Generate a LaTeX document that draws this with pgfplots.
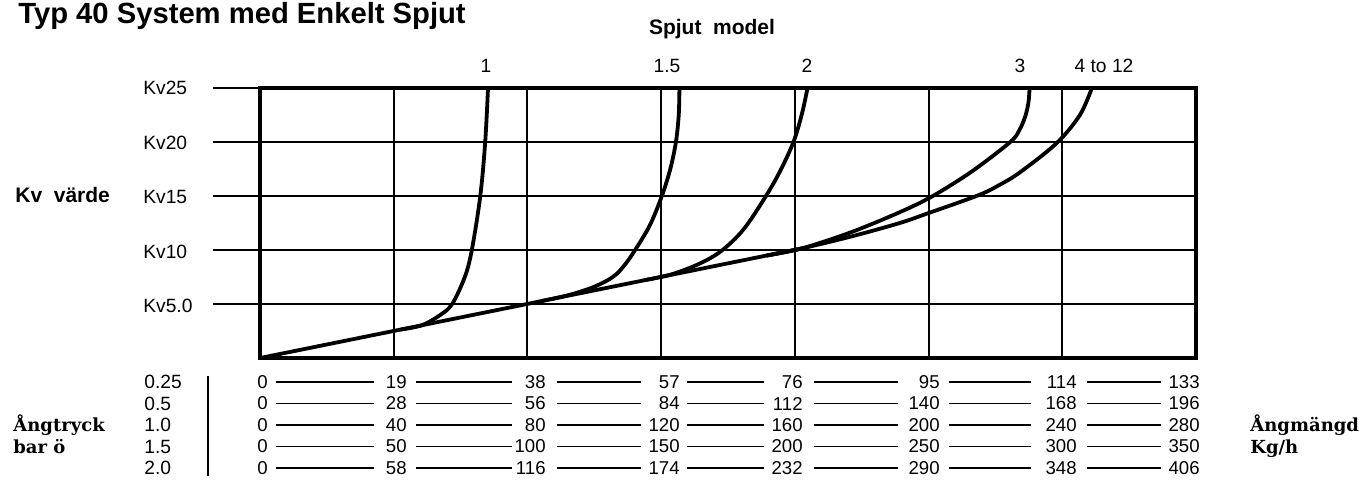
\documentclass[border=0pt]{standalone}
\usepackage{fontspec}
\setmainfont{Liberation Sans}
\newfontfamily\cent{DejaVu Serif}
\usepackage{pgfplots}
\pgfplotsset{compat=1.18}

\newcommand\numrow[9]{%
  \node[num] at (268,#1) {#2};
  \node[num] at (407,#1) {#3};
  \node[num] at (546,#1) {#4};
  \node[num] at (680,#1) {#5};
  \node[num] at (803,#1) {#6};
  \node[num] at (940,#1) {#7};
  \node[num] at (1077,#1) {#8};
  \node[num] at (1200,#1) {#9};
  \foreach \a/\b in {276/374,416/512,557/641,687/764,814/898,949/1031,1087/1161}
    \draw[line width=0.7pt] (\a,#1) -- (\b,#1);
}

\begin{document}
\begin{tikzpicture}
\useasboundingbox (0,0) rectangle (679.5pt,239.5pt);
\begin{axis}[
  at={(130pt,60.5pt)}, anchor=south west,
  scale only axis, width=468pt, height=135pt,
  xmin=0, xmax=133, ymin=0, ymax=25,
  xtick={19,38,57,76,95,114}, ytick={5,10,15,20,25},
  xticklabels={}, yticklabels={},
  xmajorgrids, ymajorgrids,
  grid style={black, line width=0.95pt},
  axis line style={black, line width=1.6pt},
  xtick style={draw=none},
  ytick pos=left,
  ytick style={black, line width=0.95pt},
  tick align=outside, major tick length=23.5pt,
  clip=false,
]
% common straight part
\addplot[black, line width=1.9pt] coordinates {(0,0) (77,10.15)};
% model 1
\addplot[black, line width=1.9pt, smooth, tension=0.55] coordinates {
  (20,2.64) (23,3.03) (25.6,3.98) (27.3,5.0) (29.1,7.5) (30.1,10.0)
  (31.3,15.0) (32.0,20.0) (32.4,25)};
% model 1.5
\addplot[black, line width=1.9pt, smooth, tension=0.55] coordinates {
  (40,5.27) (44.0,5.85) (47.5,6.6) (50.2,7.53) (51.8,8.6) (53.3,10.0)
  (55.4,12.3) (57.1,15.0) (58.3,17.5) (59.1,20.0) (59.5,22.5) (59.6,25)};
% model 2
\addplot[black, line width=1.9pt, smooth, tension=0.55] coordinates {
  (55,7.25) (58.5,7.75) (62.5,8.75) (65.6,9.94) (68.7,11.9) (71.8,14.9)
  (73.9,17.3) (75.8,20.0) (77.0,22.6) (77.8,25)};
% model 3
\addplot[black, line width=1.9pt, smooth, tension=0.55] coordinates {
  (72,9.49) (77,10.15) (84,11.65) (90.9,13.5) (95.6,15.0) (101.2,17.3)
  (106.6,20.0) (107.9,21.1) (108.75,22.4) (109.2,23.7) (109.35,25)};
% model 4 to 12
\addplot[black, line width=1.9pt, smooth, tension=0.55] coordinates {
  (72,9.49) (77,10.15) (84,11.25) (90.9,12.5) (94.9,13.4) (102,15.05)
  (105,16.0) (108,17.2) (113.2,19.9) (116.5,22.5) (118.2,25)};
\end{axis}

\begin{scope}[shift={(0pt,239.5pt)}, x=0.5pt, y=-0.5pt,
  num/.style={anchor=east, inner sep=0pt, font=\fontsize{9.3}{10}\selectfont},
  lab/.style={anchor=west, inner sep=0pt, font=\fontsize{9.6}{10}\selectfont}]
% title
\node[anchor=base west, inner sep=0pt, font=\bfseries\fontsize{14.6}{16}\selectfont] at (18,23) {Typ 40 System med Enkelt Spjut};
\node[anchor=base, inner sep=0pt, font=\bfseries\fontsize{10.5}{12}\selectfont] at (712,34) {Spjut\ \ model};
% curve labels
\foreach \x/\t in {486/1, 667/1.5, 807/2, 1020/3, 1104/4 to 12}
  \node[anchor=base, inner sep=0pt, font=\fontsize{9.6}{10}\selectfont] at (\x,72) {\t};
% Kv labels
\node[lab] at (143,88) {Kv25};
\node[lab] at (143,143) {Kv20};
\node[lab] at (143,197) {Kv15};
\node[lab] at (143,252) {Kv10};
\node[lab] at (143,306) {Kv5.0};
\node[anchor=west, inner sep=0pt, font=\bfseries\fontsize{10.5}{12}\selectfont] at (15,195) {Kv\ \ värde};
% bottom scale
\node[lab] at (144,382) {0.25};
\node[lab] at (144,403.5) {0.5};
\node[lab] at (144,425) {1.0};
\node[lab] at (144,446.5) {1.5};
\node[lab] at (144,468) {2.0};
\draw[line width=0.8pt] (208,376) -- (208,476);
\numrow{382}{0}{19}{38}{57}{76}{95}{114}{133}
\numrow{403.5}{0}{28}{56}{84}{112}{140}{168}{196}
\numrow{425}{0}{40}{80}{120}{160}{200}{240}{280}
\numrow{446.5}{0}{50}{100}{150}{200}{250}{300}{350}
\numrow{468}{0}{58}{116}{174}{232}{290}{348}{406}
\node[anchor=base west, inner sep=0pt, font=\cent\bfseries\fontsize{9}{10}\selectfont] at (13,431.5) {Ångtryck};
\node[anchor=base west, inner sep=0pt, font=\cent\bfseries\fontsize{9}{10}\selectfont] at (13,453) {bar ö};
\node[anchor=base west, inner sep=0pt, font=\cent\bfseries\fontsize{9}{10}\selectfont] at (1250,431.5) {Ångmängd};
\node[anchor=base west, inner sep=0pt, font=\cent\bfseries\fontsize{9}{10}\selectfont] at (1250,453) {Kg/h};
\end{scope}
\end{tikzpicture}
\end{document}
